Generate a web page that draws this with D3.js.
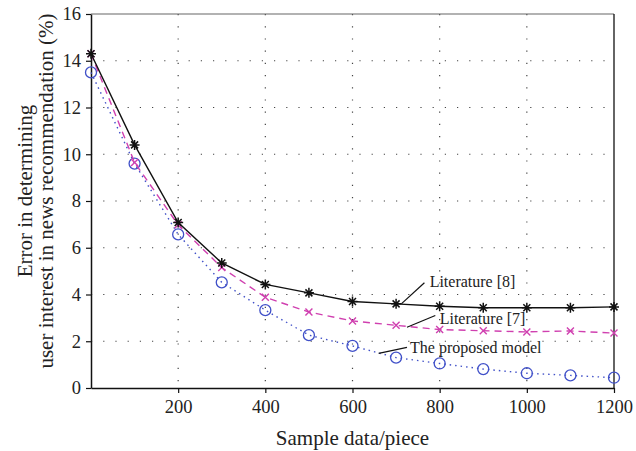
<!DOCTYPE html>
<html>
<head>
<meta charset="utf-8">
<title>Error vs sample data</title>
<script src="https://d3js.org/d3.v7.min.js"></script>
<style>
  body { margin: 0; background: #fff; }
  svg text { font-family: "Liberation Serif", "DejaVu Serif", serif; fill: #222; }
</style>
</head>
<body>
<svg id="chart"></svg>
<script>
// sample sizes (pieces)
var samples = [0, 100, 200, 300, 400, 500, 600, 700, 800, 900, 1000, 1100, 1200];
// error (%) per method
var lit8 = [14.3, 10.4, 7.08, 5.35, 4.43, 4.07, 3.7, 3.6, 3.5, 3.43, 3.43, 3.43, 3.47];
var lit7 = [14.3, 9.65, 6.98, 5.15, 3.88, 3.25, 2.87, 2.68, 2.5, 2.45, 2.4, 2.44, 2.35];
var proposed = [13.5, 9.6, 6.57, 4.52, 3.33, 2.26, 1.8, 1.3, 1.05, 0.81, 0.63, 0.54, 0.44];
var xTicks = [200, 400, 600, 800, 1000, 1200];
var yTicks = [0, 2, 4, 6, 8, 10, 12, 14, 16];

var W = 636, H = 451;
var margin = {top: 14, right: 22, bottom: 63, left: 91};
var width = W - margin.left - margin.right,
    height = H - margin.top - margin.bottom;

var svg = d3.select("#chart").attr("width", W).attr("height", H);
var g = svg.append("g").attr("transform", "translate(" + margin.left + "," + margin.top + ")");

var x = d3.scaleLinear().domain([0, 1200]).range([0, width]);
var y = d3.scaleLinear().domain([0, 16]).range([height, 0]);

// dotted grid
g.selectAll(".vgrid").data(xTicks.filter(function(d) { return d < 1200; }))
  .enter().append("line")
  .attr("x1", function(d) { return x(d); }).attr("x2", function(d) { return x(d); })
  .attr("y1", 0).attr("y2", height)
  .attr("stroke", "#444").attr("stroke-width", 1.2).attr("stroke-dasharray", "1.2,11");
g.selectAll(".hgrid").data(yTicks.filter(function(d) { return d > 0 && d < 16; }))
  .enter().append("line")
  .attr("x1", 0).attr("x2", width)
  .attr("y1", function(d) { return y(d); }).attr("y2", function(d) { return y(d); })
  .attr("stroke", "#444").attr("stroke-width", 1.2).attr("stroke-dasharray", "1.2,11");

// frame
g.append("line").attr("x1", 0).attr("x2", width).attr("y1", 0).attr("y2", 0)
  .attr("stroke", "#666").attr("stroke-width", 1.2);
g.append("line").attr("x1", width).attr("x2", width).attr("y1", 0).attr("y2", height)
  .attr("stroke", "#111").attr("stroke-width", 1.3);

// axes
var xAxis = g.append("g").attr("transform", "translate(0," + height + ")")
  .call(d3.axisBottom(x).tickValues(xTicks).tickFormat(d3.format("d"))
    .tickSize(5).tickPadding(7).tickSizeOuter(0));
var yAxis = g.append("g")
  .call(d3.axisLeft(y).tickValues(yTicks).tickSize(5).tickPadding(5).tickSizeOuter(0));
[xAxis, yAxis].forEach(function(a) {
  a.select(".domain").attr("stroke", "#111").attr("stroke-width", 1.5);
  a.selectAll(".tick line").attr("stroke", "#111").attr("stroke-width", 1.2);
  a.selectAll("text").style("font-size", "18.5px").attr("fill", "#222")
    .style("font-family", "'Liberation Serif', 'DejaVu Serif', serif");
});

// axis titles
svg.append("text").attr("x", margin.left + width / 2).attr("y", 445)
  .attr("text-anchor", "middle").style("font-size", "21px").text("Sample data/piece");
var yt = svg.append("text").attr("transform", "translate(32,191)rotate(-90)")
  .attr("text-anchor", "middle").style("font-size", "21px");
yt.append("tspan").attr("x", 0).attr("dy", 0).text("Error in determining");
yt.append("tspan").attr("x", 0).attr("dy", 21).text("user interest in news recommendation (%)");

var series = [
  {name: "Literature [8]", vals: lit8, color: "#111", dash: null, marker: "star"},
  {name: "Literature [7]", vals: lit7, color: "#d040b0", dash: "7,5", marker: "x"},
  {name: "The proposed model", vals: proposed, color: "#4050c8", dash: "1.5,4", marker: "circle"}
];

var line = d3.line().x(function(d) { return x(d[0]); }).y(function(d) { return y(d[1]); });

series.slice().reverse().forEach(function(s) {
  var pts = samples.map(function(v, i) { return [v, s.vals[i]]; });
  g.append("path").datum(pts).attr("d", line)
    .attr("fill", "none").attr("stroke", s.color).attr("stroke-width", 1.4)
    .attr("stroke-dasharray", s.dash);
  var m = g.selectAll(null).data(pts).enter().append("g")
    .attr("transform", function(d) { return "translate(" + x(d[0]) + "," + y(d[1]) + ")"; });
  if (s.marker === "circle") {
    m.append("circle").attr("r", 5.5).attr("fill", "none").attr("stroke", s.color).attr("stroke-width", 1.3);
  } else if (s.marker === "x") {
    m.append("path").attr("d", "M-3.5,-3.5L3.5,3.5M-3.5,3.5L3.5,-3.5")
      .attr("stroke", s.color).attr("stroke-width", 1.4);
  } else {
    m.append("path").attr("d", "M-5,0L5,0M0,-5L0,5M-3.5,-3.5L3.5,3.5M-3.5,3.5L3.5,-3.5")
      .attr("stroke", s.color).attr("stroke-width", 1.5);
  }
});

// callout labels: line from [x, y] to [x, y] in data units, text anchor in data units
var callouts = [
  {text: "Literature [8]", from: [712, 3.6], to: [765, 4.5], at: [777, 4.3]},
  {text: "Literature [7]", from: [725, 2.6], to: [790, 3.1], at: [800, 2.75]},
  {text: "The proposed model", from: [660, 1.48], to: [725, 1.74], at: [732, 1.5]}
];
callouts.forEach(function(c) {
  g.append("line").attr("x1", x(c.from[0])).attr("y1", y(c.from[1]))
    .attr("x2", x(c.to[0])).attr("y2", y(c.to[1]))
    .attr("stroke", "#111").attr("stroke-width", 1.2);
  g.append("text").attr("x", x(c.at[0])).attr("y", y(c.at[1]))
    .style("font-size", "16px").text(c.text);
});
</script>
</body>
</html>
